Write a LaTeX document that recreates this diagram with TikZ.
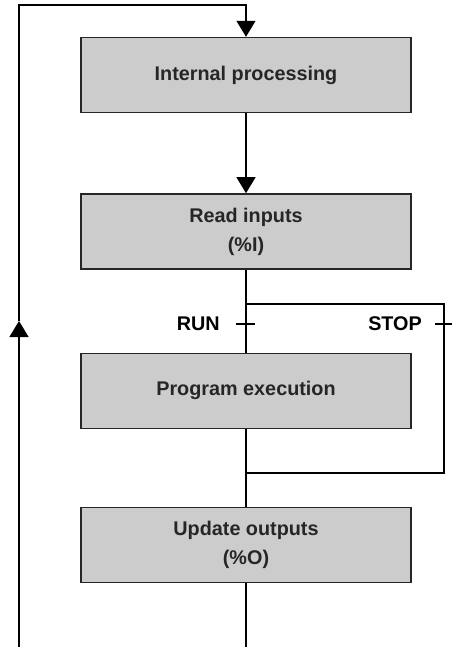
\documentclass[tikz,border=0pt]{standalone}
\usepackage{fontspec}
\setmainfont{Liberation Sans}
\usepackage{tikz}
\usetikzlibrary{arrows.meta, positioning}
\definecolor{boxgray}{RGB}{204,204,204}
\definecolor{inkgray}{RGB}{38,38,38}

\begin{document}
\begin{tikzpicture}[x=1pt, y=-1pt,
      block/.style={rectangle, draw=inkgray, line width=1.4pt, fill=boxgray,
                    minimum height=75pt, minimum width=330pt, inner sep=0pt,
                    align=center, text=inkgray, font=\fontsize{19.8}{29}\selectfont\bfseries},
      lbl/.style={font=\fontsize{19.8}{24}\selectfont\bfseries, inner sep=0pt},
      wire/.style={line width=1.3pt},
      arr/.style={-{Triangle[width=19pt, length=16pt]}, line width=1.3pt}
    ]
    \useasboundingbox[fill=white] (0,0) rectangle (451,647);

    \node[block] (intproc) at (246,75) {Internal processing};
    \node[block, below=80pt of intproc] (readin) {Read inputs\\(\%I)};
    \node[block, below=83pt of readin] (progexec) {Program execution};
    \node[block, below=78pt of progexec] (updout) {Update outputs\\(\%O)};

    \coordinate (loopbot) at (19,647);
    \coordinate (loopmid) at (19,321);
    \coordinate (looptop) at (19,5);
    \coordinate (brtop) at (246,304);
    \coordinate (brbot) at (246,473);
    \coordinate (runtick) at (246,324);
    \coordinate (stoptick) at (444,324);

    % scan loop
    \draw[arr] (loopbot) -- (loopmid);
    \draw[arr] (loopmid) -- (looptop) -| (intproc.north);
    \draw[arr] (intproc) -- (readin);
    \draw[wire] (readin) -- (progexec);
    \draw[wire] (progexec) -- (updout);
    \draw[wire] (updout) -- (updout.south |- loopbot);

    % RUN / STOP switch
    \draw[wire] (brtop) -- ++(198,0) |- (brbot);
    \draw[wire] ([xshift=-10pt]runtick) -- ([xshift=9pt]runtick);
    \draw[wire] ([xshift=-9pt]stoptick) -- ([xshift=9pt]stoptick);
    \node[lbl, left=26pt of runtick] (run) {RUN};
    \node[lbl, left=22pt of stoptick] (stop) {STOP};
\end{tikzpicture}
\end{document}
